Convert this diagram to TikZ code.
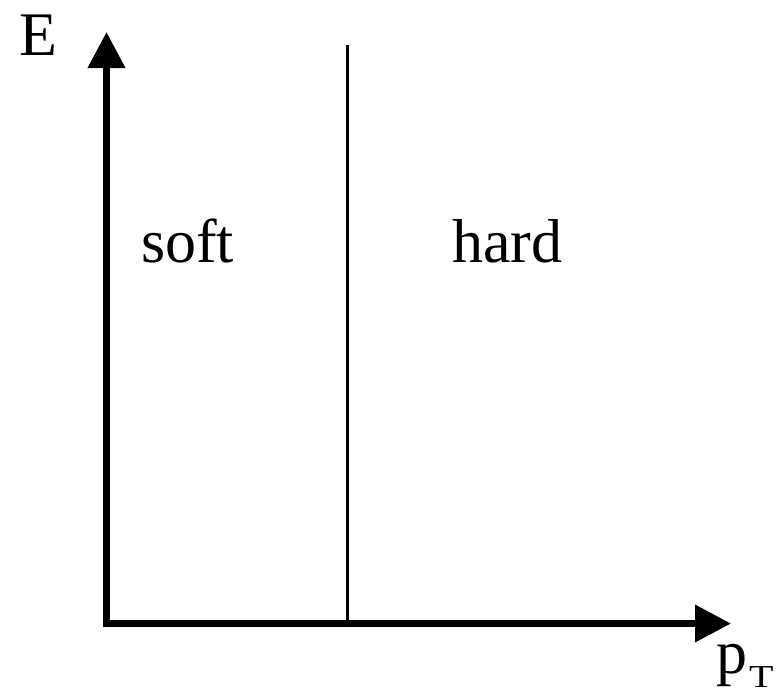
\documentclass[tikz,border=0pt]{standalone}
\usepackage{fontspec}
\setmainfont{Liberation Serif}
\usetikzlibrary{arrows.meta}

\begin{document}
\begin{tikzpicture}[x=1pt, y=-1pt,
    axe/.style={line width=7pt, -{Triangle[length=36pt, width=36pt]}},
    coupure/.style={line width=3pt},
    etiquette/.style={inner sep=0pt, anchor=base west, font=\fontsize{62}{70}\selectfont}]

    % Cadre de l'image
    \useasboundingbox (0,0) rectangle (784,696);

    % Origine et extremites des axes
    \def\xo{106.5}
    \def\yo{623.5}
    \def\xcut{347}
    \coordinate (O) at (\xo, \yo);
    \coordinate (Ehaut) at (\xo, 32);
    \coordinate (Pdroite) at (731, \yo);
    \coordinate (Ocoin) at (\xo, 627);

    % Axes E et p_T
    \draw[axe] (Ocoin) -- (Ehaut);
    \draw[axe] (O) -- (Pdroite);

    % Separation soft / hard
    \coordinate (Chaut) at (\xcut, 45);
    \coordinate (Cbas) at (\xcut, \yo);
    \draw[coupure] (Cbas) -- (Chaut);

    % Etiquettes
    \node[etiquette] (E) at (19, 55) {E};
    \node[etiquette] (soft) at (141, 262) {soft};
    \node[etiquette] (hard) at (452, 262) {hard};
    \node[etiquette] (pT) at (716, 673) {p\kern2pt\raisebox{-14pt}{\scalebox{1.25}[1]{\fontsize{32}{32}\selectfont T}}};

\end{tikzpicture}
\end{document}
